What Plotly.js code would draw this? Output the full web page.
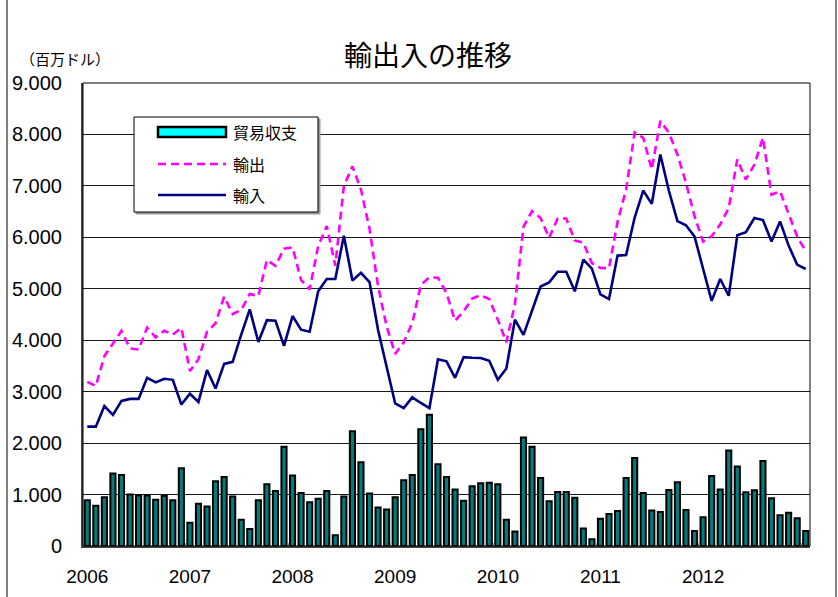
<!DOCTYPE html>
<html>
<head>
<meta charset="utf-8">
<script src="https://cdn.plot.ly/plotly-3.0.1.min.js"></script>
<style>
html,body{margin:0;padding:0;background:#fff;}
#chart{width:838px;height:597px;}
</style>
</head>
<body>
<div id="chart"></div>
<script>
// Monthly values, Jan 2006 - Jan 2013 (million USD)
const tickYears = ['2006','2007','2008','2009','2010','2011','2012'];
const tickIndex = [0, 12, 24, 36, 48, 60, 72];

const balance = [890,780,950,1410,1380,1000,980,980,900,970,890,1510,
  450,820,770,1260,1340,960,510,330,890,1200,1070,1930,
  1370,1030,850,920,1070,210,960,2230,1630,1020,750,710,
  950,1280,1380,2270,2550,1590,1340,1100,880,1160,1220,1230,
  1200,510,280,2110,1930,1320,870,1050,1050,940,340,130,
  530,620,680,1320,1710,1030,690,660,1090,1240,700,290,
  560,1360,1100,1855,1545,1045,1085,1650,930,600,645,540,
  290];

const exportsV = [3190,3110,3690,3940,4180,3840,3820,4245,4055,4185,4110,4240,
  3400,3630,4165,4330,4845,4510,4590,4900,4860,5560,5445,5780,
  5805,5170,4990,5830,6220,5450,6995,7380,6930,6165,5050,4270,
  3735,3960,4335,5075,5225,5215,4920,4380,4560,4810,4875,4800,
  4400,3960,4700,6205,6510,6375,5990,6365,6365,5940,5895,5500,
  5405,5400,6300,6930,8040,7935,7320,8260,8035,7610,7060,6410,
  5920,6020,6250,6570,7515,7125,7415,7935,6830,6895,6445,6020,
  5725];

const importsV = [2320,2320,2720,2550,2820,2860,2860,3270,3180,3250,3230,2750,
  2960,2800,3420,3060,3540,3580,4110,4600,3965,4390,4380,3890,
  4470,4205,4165,4950,5190,5190,6030,5160,5310,5130,4200,3490,
  2770,2680,2890,2780,2680,3630,3590,3270,3670,3660,3655,3600,
  3230,3450,4400,4105,4580,5045,5125,5330,5330,4950,5565,5390,
  4890,4800,5645,5655,6385,6910,6650,7610,6905,6315,6235,6015,
  5390,4765,5190,4865,6040,6100,6375,6335,5920,6310,5840,5470,
  5385];

const seriesNames = ['貿易収支', '輸出', '輸入'];

const xIdx = balance.map((_, i) => i);

// plot area in pixels (for legend placement helpers)
const PL = 83, PR = 810, PT = 83, PB = 546;
const px = p => (p - PL) / (PR - PL);
const py = p => (PB - p) / (PB - PT);

const jp = '"Noto Sans CJK JP", "Noto Sans", sans-serif';

const traces = [
  {
    type: 'bar', name: seriesNames[0], x: xIdx, y: balance, width: 0.6,
    marker: {color: '#007e7e', line: {color: '#000000', width: 2}},
    showlegend: false, hoverinfo: 'y'
  },
  {
    type: 'scatter', mode: 'lines', name: seriesNames[1], x: xIdx, y: exportsV,
    line: {color: '#ff00ff', width: 2.6, dash: '8px,5px'},
    showlegend: false
  },
  {
    type: 'scatter', mode: 'lines', name: seriesNames[2], x: xIdx, y: importsV,
    line: {color: '#000080', width: 2.6},
    showlegend: false
  }
];

const shapes = [
  // plot area frame
  {type: 'rect', xref: 'paper', yref: 'paper', x0: 0, x1: 1, y0: 0, y1: 1,
   line: {color: '#000', width: 1}, fillcolor: 'rgba(0,0,0,0)'},
  // outer chart frame (left / right edges)
  {type: 'rect', xref: 'paper', yref: 'paper', x0: px(7), x1: px(836), y0: py(603), y1: py(-6),
   line: {color: '#000', width: 1}, fillcolor: 'rgba(0,0,0,0)', layer: 'below'},
  // legend shadow
  {type: 'rect', xref: 'paper', yref: 'paper', x0: px(136), x1: px(320), y0: py(214), y1: py(119),
   line: {color: '#9a9a9a', width: 1}, fillcolor: '#9a9a9a'},
  // legend box
  {type: 'rect', xref: 'paper', yref: 'paper', x0: px(134), x1: px(318), y0: py(212), y1: py(117),
   line: {color: '#000', width: 1}, fillcolor: '#ffffff'},
  // bar symbol
  {type: 'rect', xref: 'paper', yref: 'paper', x0: px(158), x1: px(226), y0: py(137), y1: py(127),
   line: {color: '#000', width: 2.5}, fillcolor: '#00ffff'},
  // export symbol
  {type: 'line', xref: 'paper', yref: 'paper', x0: px(158), x1: px(226), y0: py(164), y1: py(164),
   line: {color: '#ff00ff', width: 2.6, dash: '8px,5px'}},
  // import symbol
  {type: 'line', xref: 'paper', yref: 'paper', x0: px(158), x1: px(226), y0: py(195), y1: py(195),
   line: {color: '#000080', width: 2.6}}
];

const annotations = [
  {text: '（百万ドル）', xref: 'paper', yref: 'paper', x: px(18), y: py(58), xanchor: 'left', yanchor: 'middle',
   showarrow: false, font: {family: jp, size: 15, color: '#000'}},
  {text: seriesNames[0], xref: 'paper', yref: 'paper', x: px(231), y: py(132), xanchor: 'left', yanchor: 'middle',
   showarrow: false, font: {family: jp, size: 16, color: '#000'}},
  {text: seriesNames[1], xref: 'paper', yref: 'paper', x: px(231), y: py(164), xanchor: 'left', yanchor: 'middle',
   showarrow: false, font: {family: jp, size: 16, color: '#000'}},
  {text: seriesNames[2], xref: 'paper', yref: 'paper', x: px(231), y: py(195), xanchor: 'left', yanchor: 'middle',
   showarrow: false, font: {family: jp, size: 16, color: '#000'}}
];

const layout = {
  width: 838, height: 597,
  margin: {l: PL, r: 838 - PR, t: PT, b: 597 - PB, pad: 0},
  paper_bgcolor: '#ffffff', plot_bgcolor: '#ffffff',
  separators: ',.',
  title: {text: '輸出入の推移', x: 428 / 838, xanchor: 'center', y: 1 - 56 / 597, yanchor: 'middle',
          xref: 'container', yref: 'container',
          font: {family: jp, size: 28, color: '#000'}},
  showlegend: false,
  bargap: 0.3,
  xaxis: {
    range: [-0.5, 84.5], tickmode: 'array', tickvals: tickIndex, ticktext: tickYears,
    showgrid: false, zeroline: false, ticks: '', ticklabelstandoff: 12,
    showline: true, linecolor: '#444', linewidth: 2, mirror: false,
    tickfont: {family: '"Liberation Sans Narrow", "Liberation Sans", Arial, sans-serif', size: 19, color: '#000'},
    minor: {tickmode: 'linear', tick0: 11.5, dtick: 12, ticks: 'inside', ticklen: 3, tickcolor: '#999', tickwidth: 1, showgrid: false}
  },
  yaxis: {
    range: [0, 9000], tickmode: 'linear', tick0: 0, dtick: 1000, tickformat: ',d',
    showgrid: true, gridcolor: '#1a1a1a', gridwidth: 1, zeroline: false,
    showline: true, linecolor: '#444', linewidth: 2, ticks: '', ticklabelstandoff: 15,
    tickfont: {family: '"Liberation Sans", Arial, sans-serif', size: 20, color: '#000'}
  },
  shapes: shapes,
  annotations: annotations
};

Plotly.newPlot('chart', traces, layout, {displayModeBar: false, staticPlot: true});
</script>
</body>
</html>
